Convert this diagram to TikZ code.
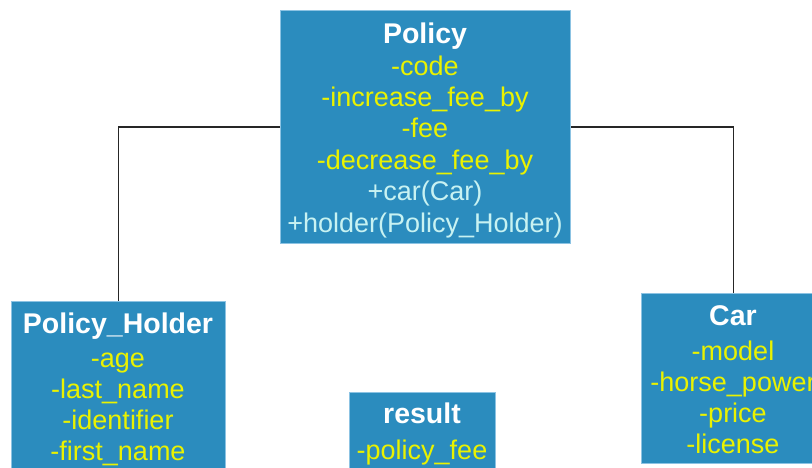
\documentclass[tikz,border=0pt]{standalone}
\usepackage{fontspec}
\setmainfont{Liberation Sans}
\definecolor{boxblue}{HTML}{2B8CBE}
\definecolor{boxedge}{HTML}{8CC3E3}
\definecolor{attrc}{HTML}{EAF200}
\definecolor{methc}{HTML}{C8F2F2}
\tikzset{
  classbox/.style={draw=boxedge, fill=boxblue, line width=1pt, rectangle, inner sep=0pt, anchor=north west},
  ttl/.style={anchor=base, inner sep=0pt, text=white, font=\fontsize{28.5}{31}\selectfont\bfseries},
  attr/.style={anchor=base, inner sep=0pt, text=attrc, font=\fontsize{27}{31}\selectfont},
  meth/.style={anchor=base, inner sep=0pt, text=methc, font=\fontsize{27}{31}\selectfont},
  conn/.style={draw=black!85, line width=1.5pt}
}
\begin{document}
\begin{tikzpicture}[x=1pt,y=-1pt]
\useasboundingbox (0,0) rectangle (812,467);
% boxes
\node[classbox, minimum width=290pt, minimum height=233pt] (policy) at (280,10) {};
\node[classbox, minimum width=214pt, minimum height=200pt] (holder) at (11,301) {};
\node[classbox, minimum width=184pt, minimum height=170pt] (car) at (641,293) {};
\node[classbox, minimum width=146pt, minimum height=120pt] (result) at (349,392) {};
% connectors
\draw[conn] (policy.west) -| (holder.north);
\draw[conn] (policy.east) -| (car.north);
% Policy text
\node[ttl] (pt) at (425,43) {Policy};
\foreach \t [count=\i] in {-code,-increase\_fee\_by,-fee,-decrease\_fee\_by}
  \node[attr] (pa\i) at (425,{75+31.4*(\i-1)}) {\t};
\node[meth] (pm1) at (425,200.6) {+car(Car)};
\node[meth] (pm2) at (425,232) {+holder(Policy\_Holder)};
% Policy_Holder text
\node[ttl] (ht) at (118,333) {Policy\_Holder};
\foreach \t [count=\i] in {-age,-last\_name,-identifier,-first\_name}
  \node[attr] (ha\i) at (118,{367+31*(\i-1)}) {\t};
% Car text
\node[ttl] (ct) at (733,325) {Car};
\foreach \t [count=\i] in {-model,-horse\_power,-price,-license}
  \node[attr] (ca\i) at (733,{360+31*(\i-1)}) {\t};
% result text
\node[ttl] (rt) at (422,423) {result};
\node[attr] (ra1) at (422,459) {-policy\_fee};
\end{tikzpicture}
\end{document}
